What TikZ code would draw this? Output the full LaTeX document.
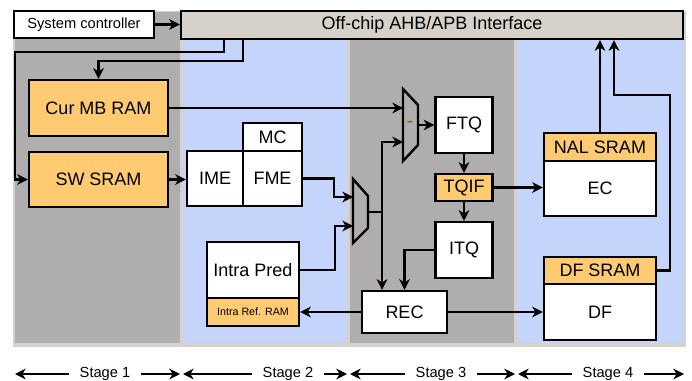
\documentclass[tikz,border=0pt]{standalone}
\usepackage{fontspec}
\setmainfont{Liberation Sans}
\usepackage{xcolor}
\usetikzlibrary{arrows.meta}

\definecolor{stagegray}{RGB}{175,173,173}
\definecolor{stageblue}{RGB}{197,212,251}
\definecolor{framebeige}{RGB}{214,210,203}
\definecolor{busfill}{RGB}{214,210,202}
\definecolor{sramfill}{RGB}{254,203,115}
\definecolor{minusbrown}{RGB}{150,90,40}

\begin{document}
\begin{tikzpicture}[x=0.75pt,y=0.75pt,yscale=-1,xscale=1,
  blk/.style={draw,line width=1.8pt,fill=white,inner sep=0pt,font=\fontsize{13.5}{16}\selectfont},
  mem/.style={blk,fill=sramfill},
  sz/.style 2 args={minimum width=#1*0.75pt,minimum height=#2*0.75pt},
  arr/.style={line width=1.7pt,-{Stealth[length=8pt,width=8pt,inset=2.5pt]}},
  mux/.style={line width=1.8pt,line join=miter},
  stagelbl/.style={inner xsep=8pt,font=\fontsize{11}{13}\selectfont}]
\useasboundingbox (0,0) rectangle (692,381);

%Shape: Frame and stage panels
\fill[framebeige] (13,11) rectangle (686,347);
\fill[stagegray] (15,12) rectangle (180,343);
\fill[stageblue] (183,12) rectangle (347,343);
\fill[stagegray] (350,12) rectangle (514,343);
\fill[stageblue] (517,12) rectangle (684,343);

% Blocks
\node[blk, sz={140}{27}, font=\fontsize{11}{13}\selectfont] (sysctl) at (84,24.5) {System controller};
\node[blk, fill=busfill, sz={502}{28}] (ahb) at (432,25) {Off-chip AHB/APB Interface};
\node[mem, sz={139}{56}] (curmb) at (98.5,108) {Cur MB RAM};
\node[mem, sz={139}{55}] (swsram) at (98.5,179.5) {SW SRAM};
\node[blk, sz={56}{55}] (ime) at (215,178.5) {IME};
\node[blk, sz={59}{55}] (fme) at (272.5,178.5) {FME};
\node[blk, sz={59}{28}] (mc) at (272.5,137) {MC};
\node[blk, sz={92}{56}] (intra) at (253,270) {Intra Pred};
\node[mem, sz={92}{28}, font=\fontsize{8}{9}\selectfont] (intraref) at (253,312) {Intra Ref. RAM};
\node[blk, sz={57}{56}] (ftq) at (464,125) {FTQ};
\node[mem, sz={57}{27}] (tqif) at (464,187.5) {TQIF};
\node[blk, sz={57}{56}] (itq) at (464,250) {ITQ};
\node[blk, sz={85}{42}] (rec) at (404.5,312) {REC};
\node[mem, sz={112}{28}] (nal) at (600,147) {NAL SRAM};
\node[blk, sz={112}{55}] (ec) at (600,188.5) {EC};
\node[mem, sz={112}{27}] (dfsram) at (600,270.5) {DF SRAM};
\node[blk, sz={112}{56}] (df) at (600,312) {DF};

%Shape: Muxes
\draw[mux] (353,179) -- (368,196) -- (368,228) -- (353,243) -- cycle;
\coordinate (m1a) at (353,197);
\coordinate (m1b) at (353,226);
\coordinate (m1o) at (368,212);
\coordinate (tap) at (382,212);
\draw[mux] (403,89) -- (418,105) -- (418,145) -- (403,161) -- cycle;
\coordinate (m2a) at (403,108);
\coordinate (m2b) at (403,142);
\coordinate (m2o) at (418,125);
\node[inner sep=0pt, text=minusbrown, font=\fontsize{15}{16}\selectfont] (minus) at (410,124) {-};

%Straight Lines
\draw[arr] (sysctl.east) -- (sysctl.east -| ahb.west);
\draw[arr] (ahb.south -| 224,0) |- (15,52) |- (swsram.west);
\draw[arr] (ahb.south -| 243,0) |- (98.5,61) -- (curmb.north);
\draw[arr] (curmb.east) -- (m2a);
\draw[arr] (swsram.east) -- (swsram.east -| ime.west);
\draw[arr] (fme.east) -- ++(31,0) |- (m1a);
\draw[arr] (intra.east) -- ++(35,0) |- (m1b);
\draw[arr] (m1o) -| (tap |- rec.north);
\draw[arr] (tap) |- (m2b);
\draw[arr] (m2o) -- (ftq.west);
\draw[arr] (ftq.south) -- (tqif.north);
\draw[arr] (tqif.south) -- (itq.north);
\draw[arr] (tqif.east) -- (tqif.east -| ec.west);
\draw[arr] (itq.west) -| (rec.north);
\draw[arr] (rec.west) -- (intraref.east);
\draw[arr] (rec.east) -- (df.west);
\draw[arr] (nal.north) -- (nal.north |- ahb.south);
\draw[arr] (dfsram.east) -| (670,95) -| (ahb.south -| 614,0);

% Stage labels
\foreach \n/\x/\l/\r in {1/105/15/180, 2/288/183/347, 3/441/350/515, 4/608/518/684}{
  \coordinate (l\n) at (\l,374);
  \coordinate (r\n) at (\r,374);
  \node[stagelbl] (st\n) at (\x,374) {Stage \n};
  \draw[arr] (st\n.west) -- (l\n);
  \draw[arr] (st\n.east) -- (r\n);
}

\end{tikzpicture}
\end{document}
